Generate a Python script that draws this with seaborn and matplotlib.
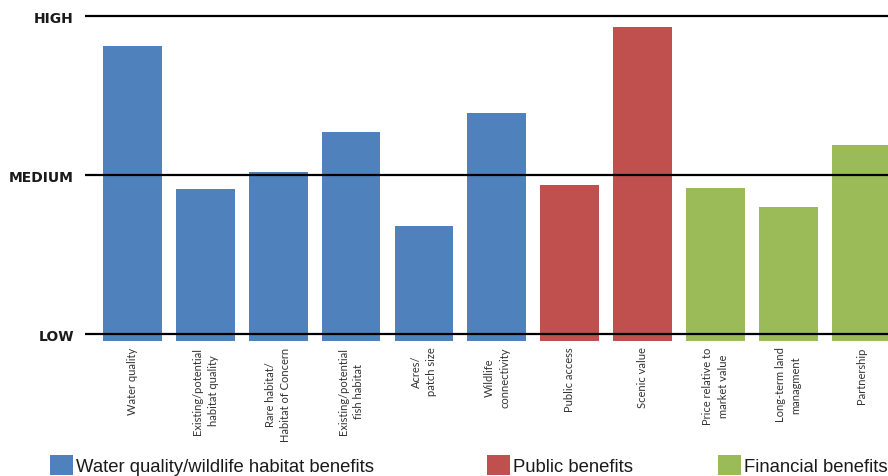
import matplotlib
matplotlib.use('Agg')
import matplotlib.pyplot as plt
from matplotlib.patches import Patch
import pandas as pd
import seaborn as sns

# --- data ---
categories = ['Water quality', 'Existing/potential\nhabitat quality', 'Rare habitat/\nHabitat of Concern',
              'Existing/potential\nfish habitat', 'Acres/\npatch size', 'Wildlife\nconnectivity',
              'Public access', 'Scenic value', 'Price relative to\nmarket value',
              'Long-term land\nmanagment', 'Partnership']
scores = [1.81, 0.91, 1.02, 1.27, 0.68, 1.39, 0.94, 1.93, 0.92, 0.80, 1.19]
groups = ['Water quality/wildlife habitat benefits'] * 6 + ['Public benefits'] * 2 + ['Financial benefits'] * 3
group_names = ['Water quality/wildlife habitat benefits', 'Public benefits', 'Financial benefits']
group_colors = ['#4F81BD', '#C0504D', '#9BBB59']
level_values = [0, 1, 2]
level_labels = ['LOW', 'MEDIUM', 'HIGH']

df = pd.DataFrame({'category': categories, 'score': scores, 'group': groups})

sns.set_style('white')

fig = plt.figure(figsize=(8.88, 4.77), dpi=100)
ax = fig.add_axes([85 / 888, 135 / 477, 803 / 888, 342 / 477])

sns.barplot(data=df, x='category', y='score', hue='group', order=categories,
            hue_order=group_names, palette=group_colors, dodge=False, width=0.806,
            saturation=1, legend=False, ax=ax)

# bars start a little below the LOW line, as in the original
base = -0.044
for p in ax.patches:
    top = p.get_y() + p.get_height()
    p.set_y(base)
    p.set_height(top - base)
    p.set_edgecolor('none')

for y in level_values:
    ax.axhline(y, color='black', lw=1.6, zorder=3)

ax.set_xlim(-0.652, 10.368)
ax.set_ylim(base, 2.107)
sns.despine(ax=ax, left=True, bottom=True)
ax.set_xlabel('')
ax.set_ylabel('')

ax.set_yticks(level_values)
ax.set_yticklabels(level_labels, fontsize=10, fontweight='bold', color='#1a1a1a',
                   family='DejaVu Sans')
ax.tick_params(axis='y', length=0, pad=8)
ax.tick_params(axis='x', length=0, pad=4)
ax.set_xticks(range(len(categories)))
ax.set_xticklabels(categories, rotation=90, ha='center', va='top', fontsize=8,
                   family='Lato', color='#333333', linespacing=1.5, multialignment='center')

# legend: three separate entries spread along the bottom
legend_x = [50, 487, 718]
for name, color, lx in zip(group_names, group_colors, legend_x):
    leg = fig.legend(handles=[Patch(facecolor=color, edgecolor='none', label=name)],
                     loc='lower left', bbox_to_anchor=(lx / 888, 0.002), frameon=False,
                     prop={'family': 'Liberation Sans', 'size': 13.3},
                     handlelength=1.25, handleheight=1.25, handletextpad=0.18,
                     borderpad=0, borderaxespad=0)
    for t in leg.get_texts():
        t.set_color('#1a1a1a')

fig.savefig('out.png', dpi=100)
